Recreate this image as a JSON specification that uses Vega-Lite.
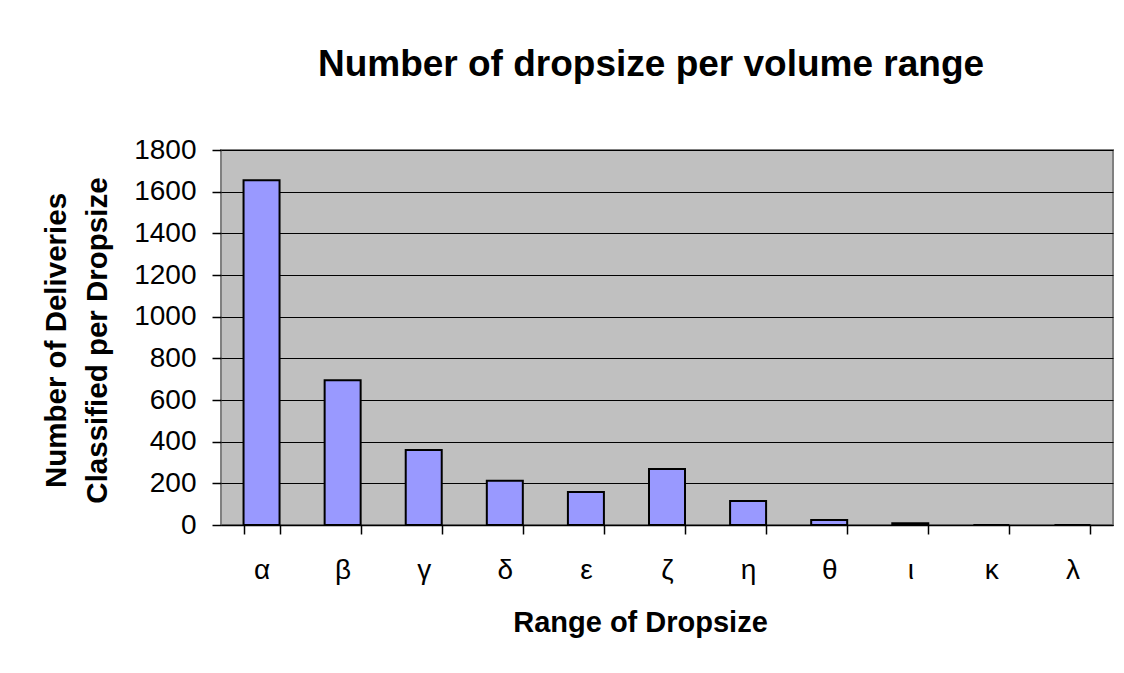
{
  "$schema": "https://vega.github.io/schema/vega-lite/v6.json",
  "autosize": {"type": "none"},
  "padding": {"left": 221, "top": 150, "right": 11, "bottom": 148},
  "width": 892,
  "height": 375,
  "background": "white",
  "title": {
    "text": "Number of dropsize per volume range",
    "font": "Liberation Sans",
    "fontSize": 37,
    "fontWeight": "bold",
    "color": "black",
    "baseline": "alphabetic",
    "anchor": "middle",
    "frame": "group",
    "offset": 23,
    "dx": -16
  },
  "config": {
    "view": {"fill": "#C0C0C0", "stroke": "#808080", "strokeWidth": 2},
    "font": "Liberation Sans"
  },
  "data": {
    "values": [
      {"range": "α", "count": 1655},
      {"range": "β", "count": 695},
      {"range": "γ", "count": 360},
      {"range": "δ", "count": 213},
      {"range": "ε", "count": 158},
      {"range": "ζ", "count": 269},
      {"range": "η", "count": 115},
      {"range": "θ", "count": 24},
      {"range": "ι", "count": 8},
      {"range": "κ", "count": 0},
      {"range": "λ", "count": 0}
    ]
  },
  "mark": {"type": "bar", "fill": "#9999FF", "stroke": "black", "strokeWidth": 2},
  "encoding": {
    "x": {
      "field": "range",
      "type": "nominal",
      "sort": null,
      "scale": {"paddingInner": 0.556, "paddingOuter": 0.278},
      "axis": {
        "title": "Range of Dropsize",
        "titleFont": "Liberation Sans",
        "titleFontSize": 29,
        "titleFontWeight": "bold",
        "titleColor": "black",
        "titleBaseline": "alphabetic",
        "titleAlign": "center",
        "titleX": 419,
        "titleY": 106,
        "labelFont": "Liberation Sans",
        "labelFontSize": 28,
        "labelColor": "black",
        "labelAngle": 0,
        "labelBaseline": "alphabetic",
        "labelPadding": 44,
        "tickBand": "extent",
        "tickSize": 9,
        "tickColor": "black",
        "tickWidth": 1.5,
        "domainColor": "black",
        "domainWidth": 1.5
      }
    },
    "y": {
      "field": "count",
      "type": "quantitative",
      "scale": {"domain": [0, 1800], "nice": false},
      "axis": {
        "values": [0, 200, 400, 600, 800, 1000, 1200, 1400, 1600, 1800],
        "format": "d",
        "title": ["Number of Deliveries", "Classified per Dropsize"],
        "titleFont": "Liberation Sans",
        "titleFontSize": 29.5,
        "titleFontWeight": "bold",
        "titleColor": "black",
        "titleBaseline": "alphabetic",
        "titleAlign": "center",
        "titleAngle": -90,
        "titleLineHeight": 41,
        "titleX": -156,
        "titleY": 190,
        "labelFont": "Liberation Sans",
        "labelFontSize": 28,
        "labelColor": "black",
        "labelPadding": 16,
        "tickSize": 9,
        "tickColor": "black",
        "tickWidth": 1.5,
        "domain": false,
        "grid": true,
        "gridColor": "black",
        "gridWidth": 1.2,
        "gridOpacity": 1
      }
    }
  }
}
